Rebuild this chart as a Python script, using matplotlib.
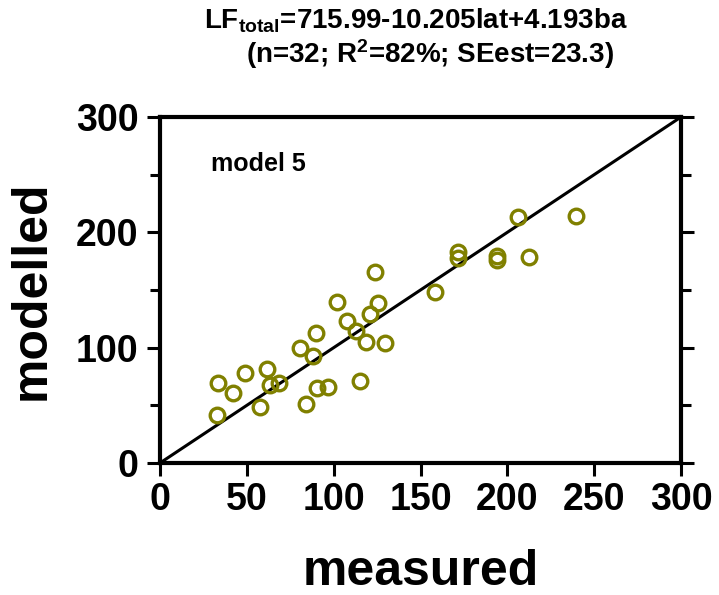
import numpy as np
import matplotlib
matplotlib.use("Agg")
import matplotlib.pyplot as plt

plt.rcParams["font.family"] = ["Liberation Sans", "DejaVu Sans"]
plt.rcParams["font.weight"] = "bold"
plt.rcParams["mathtext.fontset"] = "custom"
plt.rcParams["mathtext.rm"] = "Liberation Sans:bold"
plt.rcParams["mathtext.bf"] = "Liberation Sans:bold"
plt.rcParams["mathtext.it"] = "Liberation Sans:bold"

measured = [33.4, 32.8, 42.0, 48.9, 57.6, 61.6, 63.3, 68.5, 80.6, 84.0,
            88.1, 89.8, 90.4, 96.7, 101.9, 107.7, 112.9, 115.2, 118.6, 121.0,
            123.8, 125.5, 129.6, 158.6, 171.6, 171.6, 194.1, 194.1, 212.5, 206.1,
            239.5]
modelled = [69.4, 41.6, 60.7, 78.0, 48.6, 81.5, 67.6, 69.4, 99.7, 51.2,
            92.8, 112.7, 65.0, 65.9, 139.6, 123.1, 114.5, 71.1, 104.9, 129.2,
            165.6, 138.7, 104.0, 148.3, 182.9, 177.7, 179.5, 176.0, 178.6, 213.1,
            214.2]

identity = [0, 300]
x_ticks = [0, 50, 100, 150, 200, 250, 300]
y_major = [0, 100, 200, 300]
y_minor = [50, 150, 250]

fig = plt.figure(figsize=(7.19, 5.95), dpi=100)
ax = fig.add_axes([160 / 719, 1 - 463 / 595, 521 / 719, 346 / 595])

ax.plot(identity, identity, color="black", lw=2.2, zorder=2)
ax.plot(measured, modelled, "o", ms=10.5, mfc="none", mec="#808000", mew=2.4,
        zorder=3, clip_on=False)

ax.set_xlim(0, 300)
ax.set_ylim(0, 300)
ax.set_xticks(x_ticks)
ax.set_yticks(y_major)
ax.set_yticks(y_minor, minor=True)

for s in ax.spines.values():
    s.set_linewidth(3)

ax.tick_params(axis="x", which="major", direction="out", length=9, width=2.2,
               labelsize=27, pad=5)
ax.tick_params(axis="y", which="major", direction="out", length=9.5, width=2.2,
               labelsize=27, pad=6, right=True)
ax.tick_params(axis="y", which="minor", direction="out", length=7, width=2.2,
               right=True)
for lab in ax.get_xticklabels() + ax.get_yticklabels():
    lab.set_fontweight("bold")

ax.set_xlabel("measured", fontsize=36, fontweight="bold", labelpad=22)
ax.set_ylabel("modelled", fontsize=36, fontweight="bold", labelpad=15)

ax.text(0.098, 0.865, "model 5", transform=ax.transAxes, fontsize=18,
        fontweight="bold", va="center", ha="left")

fig.text(416 / 719, 1 - 21 / 595, r"LF$_{\rm total}$=715.99-10.205lat+4.193ba",
         fontsize=20, fontweight="bold", ha="center", va="center")
fig.text(430 / 719, 1 - 54 / 595, r"(n=32; R$^{2}$=82%; SEest=23.3)",
         fontsize=20, fontweight="bold", ha="center", va="center")

fig.savefig("out.png", dpi=100)
